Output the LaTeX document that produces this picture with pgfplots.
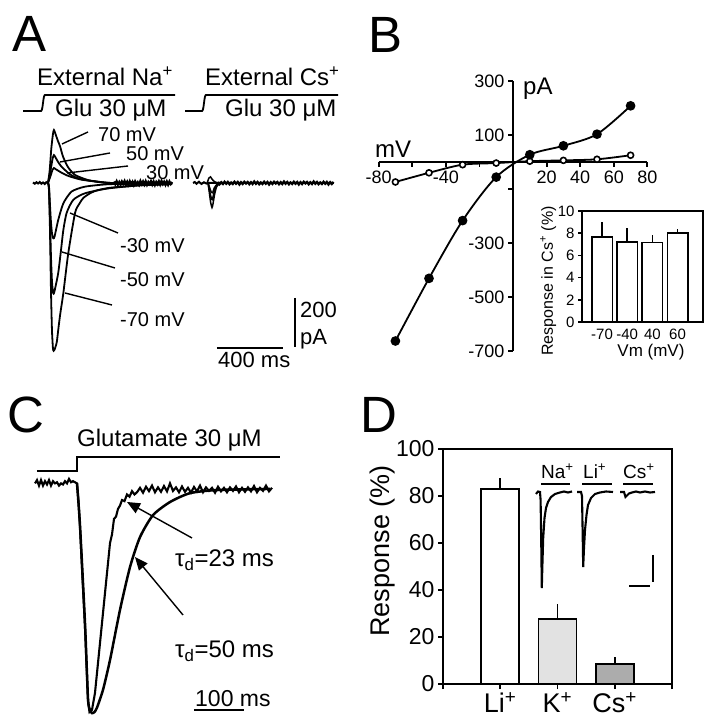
\documentclass[border=0pt]{standalone}
\usepackage{pgfplots}
\pgfplotsset{compat=1.18}
\usepackage{fontspec}
\setmainfont{Liberation Sans}
\usetikzlibrary{arrows.meta}
\newcommand\fs[1]{\fontsize{#1bp}{#1bp}\selectfont}
\definecolor{kgray}{RGB}{226,226,226}
\definecolor{cgray}{RGB}{172,172,172}
\begin{document}
\begin{tikzpicture}[line cap=butt]
\useasboundingbox (0,0) rectangle (710bp,720bp);
\fill[white] (0,0) rectangle (710bp,720bp);

% ================= A : traces (ms, pA)
\begin{axis}[at={(15bp,353.25bp)}, anchor=south west, scale only axis,
  width=346.5bp, height=281.75bp, xmin=-200, xmax=1900, ymin=-750, ymax=400,
  axis lines=none, clip=false]
% baseline before onset
\addplot[black, line width=2bp] coordinates {(-91,2)(-80,-3)(-70,3)(-60,-2)(-50,4)(-40,-3)(-30,2)(-20,-4)(-10,3)(0,0)};
% +70 mV
\addplot[black, line width=1.8bp, smooth, tension=0.4] coordinates {(0,0)(10,50)(20,140)(30,200)(36,216)(48,195)(60,172)(73,150)(91,108)(121,65)(164,33)(242,12)(320,4)(400,0)(752,0)};
% +50 mV
\addplot[black, line width=1.8bp, smooth, tension=0.4] coordinates {(0,0)(15,50)(28,100)(36,114)(45,105)(61,86)(80,68)(103,53)(130,37)(164,24)(210,14)(267,8)(320,3)(388,0)(752,0)};
% +30 mV
\addplot[black, line width=1.8bp, smooth, tension=0.4] coordinates {(0,0)(15,28)(28,55)(36,61)(50,55)(85,41)(115,31)(145,24)(200,14)(267,8)(330,3)(400,0)(752,0)};
% -30 mV
\addplot[black, line width=1.8bp, smooth, tension=0.4] coordinates {(0,0)(6,-15)(12,-90)(18,-160)(24,-205)(30,-224)(34,-226)(40,-218)(62,-151)(93,-83)(143,-35)(224,-15)(366,-5)(568,-3)(752,-2)};
% -50 mV
\addplot[black, line width=1.8bp, smooth, tension=0.4] coordinates {(0,0)(6,-20)(12,-150)(18,-300)(24,-400)(30,-445)(34,-452)(40,-440)(62,-367)(79,-273)(93,-192)(113,-122)(153,-69)(224,-42)(366,-22)(568,-9)(752,-4)};
% -70 mV
\addplot[black, line width=1.8bp, smooth, tension=0.4] coordinates {(0,0)(6,-30)(12,-192)(18,-437)(24,-600)(30,-675)(34,-685)(40,-680)(53,-650)(62,-600)(73,-540)(93,-449)(123,-286)(164,-122)(190,-85)(214,-61)(260,-40)(303,-29)(370,-20)(448,-15)(540,-10)(630,-8)(752,-4)};
% noisy tail
\addplot[black, line width=2.3bp] coordinates {(400,6)(408,-5)(416,7)(424,-6)(432,4)(440,-7)(448,6)(456,-3)(464,8)(472,-6)(480,5)(488,-7)(496,7)(504,-4)(512,5)(520,-8)(528,6)(536,-5)(544,3)(552,-7)(560,8)(568,-4)(576,6)(584,-6)(592,7)(600,-7)(608,4)(616,-4)(624,7)(632,-6)(640,6)(648,-8)(656,4)(664,-5)(672,7)(680,-6)(688,8)(696,-4)(704,5)(712,-7)(720,6)(728,-7)(736,6)(744,-4)(752,4)};
% ---- external Cs traces
\addplot[black, line width=2bp] coordinates {(879,0)(890,4)(900,-3)(915,5)(930,-4)(945,3)(960,-2)(970,0)(1090,0)(1733,0)};
\addplot[black, line width=1.5bp, smooth, tension=0.4] coordinates {(970,0)(978,-40)(986,-80)(994,-100)(1000,-85)(1010,-45)(1022,-15)(1040,-3)(1060,0)(1090,0)};
\addplot[black, line width=1.5bp, smooth, tension=0.4] coordinates {(970,0)(980,-35)(990,-62)(996,-68)(1006,-40)(1020,-12)(1040,0)(1060,0)};
\addplot[black, line width=1.5bp, smooth, tension=0.4] coordinates {(970,0)(980,-20)(990,-38)(998,-40)(1008,-20)(1025,-5)(1045,0)};
\addplot[black, line width=1.5bp, smooth, tension=0.4] coordinates {(965,0)(975,20)(985,25)(995,15)(1010,5)(1030,0)};
\addplot[black, line width=2.3bp] coordinates {(1030,4)(1040,-5)(1050,3)(1060,-4)(1070,5)(1080,-3)(1090,4)(1100,-5)(1110,2)(1120,-4)(1130,5)(1140,-3)(1150,4)(1160,-6)(1170,3)(1180,-4)(1190,5)(1200,-2)(1210,4)(1220,-5)(1230,3)(1240,-4)(1250,6)(1260,-3)(1270,4)(1280,-5)(1290,2)(1300,-4)(1310,5)(1320,-3)(1330,4)(1340,-6)(1350,3)(1360,-4)(1370,5)(1380,-2)(1390,4)(1400,-5)(1410,3)(1420,-4)(1430,6)(1440,-3)(1450,4)(1460,-5)(1470,2)(1480,-4)(1490,5)(1500,-3)(1510,4)(1520,-6)(1530,3)(1540,-4)(1550,5)(1560,-2)(1570,4)(1580,-5)(1590,3)(1600,-4)(1610,6)(1620,-3)(1630,4)(1640,-5)(1650,2)(1660,-4)(1670,5)(1680,-3)(1690,4)(1700,-6)(1710,3)(1720,-4)(1730,4)};
% scale bars 200 pA / 400 ms
\draw[line width=1.8bp] (axis cs:1497,-469) -- (axis cs:1497,-669);
\draw[line width=1.8bp] (axis cs:1024,-673) -- (axis cs:1424,-673);
\end{axis}

% ================= B : I-V relation
\begin{axis}[at={(378.6bp,369bp)}, anchor=south west, scale only axis,
  width=268.8bp, height=270bp, xmin=-80, xmax=80, ymin=-700, ymax=300,
  axis lines=middle, axis line style={-, line width=1.8bp},
  xtick={-80,-60,...,80}, xticklabels={-80,,-40,,,20,40,60,80},
  ytick={300,100,-100,-300,-500,-700}, yticklabels={300,100,,-300,-500,-700},
  tick align=outside, major tick length=5bp, tick style={black, line width=1.8bp},
  xticklabel style={font=\fs{18}}, yticklabel style={font=\fs{18}},
  clip=false]
\addplot[black, line width=1.8bp, smooth, tension=0.5, mark=*, mark size=3bp,
  mark options={fill=white, line width=1.6bp}]
  coordinates {(-70,-74)(-50,-40)(-30,-10)(-10,-4)(10,3)(30,6)(50,10)(70,25)};
\addplot[black, line width=1.8bp, smooth, tension=0.5, mark=*, mark size=3.9bp]
  coordinates {(-70,-663)(-50,-431)(-30,-217)(-10,-56)(10,27)(30,60)(50,103)(70,208)};
\end{axis}

% ---- B inset
\begin{axis}[at={(582bp,398bp)}, anchor=south west, scale only axis,
  width=121bp, height=111bp, xmin=-0.795, xmax=4.01, ymin=0, ymax=10,
  axis line style={line width=1.5bp}, tick style={black, line width=1.5bp},
  ytick={0,2,4,6,8,10}, yticklabels={0,2,4,6,8,10},
  xtick={0,1,2,3}, xticklabels={-70,-40,40,60}, xtick style={draw=none},
  xtick pos=left, ytick pos=left, tick align=outside, major tick length=4bp,
  ticklabel style={font=\fs{15}},
  xlabel={Vm (mV)}, ylabel={Response in Cs\textsuperscript{+} (\%)},
  xlabel style={font=\fs{17}, at={(axis description cs:0.57,-0.27)}, anchor=center},
  ylabel style={font=\fs{16}, at={(axis description cs:-0.28,0.37)}, anchor=center}]
\addplot[ybar, bar width=20.5bp, bar shift=0pt, fill=white, draw=black, line width=1.5bp,
  error bars/.cd, y dir=plus, y explicit, error mark=none, error bar style={line width=1.5bp}]
  coordinates {(0,7.65) +- (0,1.35) (1,7.2) +- (0,1.3) (2,7.15) +- (0,0.65) (3,8.0) +- (0,0.4)};
\end{axis}

% ================= C : glutamate response (ms, normalised)
\begin{axis}[at={(20bp,0.2bp)}, anchor=south west, scale only axis,
  width=280bp, height=279.7bp, xmin=-114, xmax=446, ymin=-1.035, ymax=0.225,
  axis lines=none, clip=false]
% raw (fast) trace
\addplot[black, line width=2.1bp] coordinates {(-84,0.03)(-80,0.045)(-76,0.02)(-72,0.045)(-68,0.02)(-64,0.04)(-60,0.025)(-56,0.045)(-52,0.02)(-48,0.04)(-44,0.03)(-40,0.035)(-36,0.02)(-32,0.03)(-28,0.025)(-24,0.04)(-20,0.03)(-16,0.05)(-12,0.035)(-8,0.04)(-4,0.035)(0,0.03)
 (3,-0.05)(6,-0.167)(11,-0.4)(16,-0.617)(22,-0.946)(25,-1.0)(30,-0.99)(36,-0.914)(46,-0.689)(56,-0.464)(66,-0.239)(70,-0.2)(74,-0.13)(78,-0.12)(82,-0.085)(86,-0.07)(90,-0.045)(95,-0.05)(100,-0.02)(105,-0.03)(110,-0.005)(115,-0.02)
 (120,-0.01)(126,0.01)(132,-0.012)(138,0.015)(144,-0.005)(150,0.02)(156,-0.01)(162,0.012)(168,-0.008)(174,0.018)(180,-0.006)(186,0.03)(192,-0.004)(198,0.012)(204,-0.01)(210,0.016)(216,-0.008)(222,0.01)(228,-0.012)(234,0.014)(240,-0.006)(246,0.02)(252,-0.01)(258,0.012)(264,-0.004)(270,0.01)(276,-0.012)(282,0.015)(288,-0.006)(294,0.01)(300,-0.01)(306,0.012)(312,-0.004)(318,0.016)(324,-0.01)(330,0.01)(336,-0.008)(342,0.012)(348,-0.006)(354,0.018)(360,-0.01)(366,0.01)(372,-0.004)(378,0.02)(384,-0.006)(390,0.01)};
% slow trace
\addplot[black, line width=2.5bp, smooth, tension=0.4] coordinates {(0,0.03)(6,-0.16)(16,-0.6)(22,-0.94)(26,-0.99)(30,-1.005)(35,-1.0)(40,-0.98)(52,-0.90)(66,-0.766)(86,-0.54)(106,-0.347)(126,-0.212)(152,-0.113)(186,-0.054)(226,-0.014)(280,0)(386,0.005)};
% glutamate application bar
\draw[line width=1.8bp] (axis cs:-80,0.086) -- (axis cs:0,0.086) -- (axis cs:0,0.149) -- (axis cs:406,0.149);
% 100 ms scale bar
\draw[line width=1.6bp] (axis cs:234,-0.991) -- (axis cs:334,-0.991);
\end{axis}

% ================= D : bar chart
\begin{axis}[at={(443bp,36bp)}, anchor=south west, scale only axis,
  width=229bp, height=235bp, xmin=-1, xmax=3, ymin=0, ymax=100,
  axis line style={line width=1.7bp}, tick style={black, line width=1.7bp},
  xtick={-1,0,1,2,3}, xticklabels={,Li\textsuperscript{+},K\textsuperscript{+},Cs\textsuperscript{+},},
  ytick={0,20,40,60,80,100}, yticklabels={0,20,40,60,80,100},
  xtick pos=left, ytick pos=left, tick align=outside, major tick length=5bp,
  xticklabel style={font=\fs{27}}, yticklabel style={font=\fs{23}},
  ylabel={Response (\%)},
  ylabel style={font=\fs{27}, at={(axis description cs:-0.266,0.566)}, anchor=center}]
\addplot[ybar, bar width=38bp, bar shift=0pt, fill=white, draw=black, line width=1.7bp,
  error bars/.cd, y dir=plus, y explicit, error bar style={line width=1.7bp},
  error mark options={line width=1.7bp, mark size=3.5bp}]
  coordinates {(0,83) +- (0,3)};
\addplot[ybar, bar width=38bp, bar shift=0pt, fill=kgray, draw=black, line width=1.7bp,
  error bars/.cd, y dir=plus, y explicit, error bar style={line width=1.7bp},
  error mark options={line width=1.7bp, mark size=3.5bp}]
  coordinates {(1,27.8) +- (0,4.7)};
\addplot[ybar, bar width=38bp, bar shift=0pt, fill=cgray, draw=black, line width=1.7bp,
  error bars/.cd, y dir=plus, y explicit, error bar style={line width=1.7bp},
  error mark options={line width=1.7bp, mark size=3.5bp}]
  coordinates {(2,8.5) +- (0,1.3)};
\end{axis}

% ---- D inset traces
\begin{axis}[at={(530bp,120bp)}, anchor=south west, scale only axis,
  width=130bp, height=135bp, xmin=0, xmax=130, ymin=0, ymax=135,
  axis lines=none, clip=false]
\addplot[black, line width=2.1bp] coordinates {(6,106)(8,108.5)(10,108)(10.6,100)(11.2,60)(11.8,12)(12.4,35)(13.2,62)(14.5,82)(16,92)(18,98)(21,103)(25,106)(30,107.5)(34,108.5)(38,107.5)(42,108.5)};
\addplot[black, line width=2.1bp] coordinates {(47,108)(51,108)(52,104)(52.6,70)(53.2,33)(54,52)(55,70)(56.5,85)(58,95)(61,102)(65,106)(70,107.5)(76,108.5)(83,108)};
\addplot[black, line width=2.1bp] coordinates {(90,108)(94,108)(95.5,103)(97,104.5)(99,106.5)(102,107.5)(106,108.5)(110,107.5)(115,108.5)(120,107.5)(125,108)};
\draw[line width=1.8bp] (axis cs:123,45) -- (axis cs:123,18);
\draw[line width=1.8bp] (axis cs:99,14) -- (axis cs:120,14);
\end{axis}

% ================= annotations (pixel coordinates, y downward)
\begin{scope}[x=1bp, y=-1bp, yshift=720bp, every node/.style={inner sep=0pt, anchor=base west}]
% panel letters
\node[font=\fs{51}] at (12,52) {A};
\node[font=\fs{51}] at (368,53) {B};
\node[font=\fs{51}] at (7,433) {C};
\node[font=\fs{51}] at (360,433) {D};
% A texts
\node[font=\fs{24}] at (37,86) {External Na\textsuperscript{+}};
\node[font=\fs{24}] at (205,86) {External Cs\textsuperscript{+}};
\node[font=\fs{24}] at (55,117) {Glu 30 μM};
\node[font=\fs{24}] at (225,117) {Glu 30 μM};
\draw[line width=1.8bp] (23,111) -- (41,111) .. controls (43,111) and (43,95) .. (45,95) -- (175,95);
\draw[line width=1.8bp] (185,111) -- (202,111) .. controls (204,111) and (204,95) .. (206,95) -- (338,95);
\node[font=\fs{20}] at (98,142) {70 mV};
\node[font=\fs{20}] at (126,161) {50 mV};
\node[font=\fs{20}] at (146,180) {30 mV};
\node[font=\fs{20}] at (120,253) {-30 mV};
\node[font=\fs{20}] at (120,287) {-50 mV};
\node[font=\fs{20}] at (120,327) {-70 mV};
\draw[line width=1.4bp] (62,144) -- (88,132);
\draw[line width=1.4bp] (60,162) -- (110,153);
\draw[line width=1.4bp] (67,173) -- (128,166);
\draw[line width=1.4bp] (70,213) -- (118,233);
\draw[line width=1.4bp] (62,252) -- (115,268);
\draw[line width=1.4bp] (65,293) -- (112,305);
\node[font=\fs{22}] at (300,318) {200};
\node[font=\fs{22}] at (300,345) {pA};
\node[font=\fs{22}] at (218,368) {400 ms};
% B texts
\node[font=\fs{24}] at (375,158) {mV};
\node[font=\fs{24}] at (523,95) {pA};
% C texts
\node[font=\fs{24}] at (77,447) {Glutamate 30 μM};
\node[font=\fs{24}] at (175,567) {τ\textsubscript{d}=23 ms};
\node[font=\fs{24}] at (175,658) {τ\textsubscript{d}=50 ms};
\node[font=\fs{23}] at (195,707) {100 ms};
\draw[line width=1.4bp, -{Triangle[length=13bp,width=11bp]}] (192,538) -- (127,502);
\draw[line width=1.4bp, -{Triangle[length=13bp,width=11bp]}] (183,615) -- (135,557);
% D inset labels
\node[font=\fs{19}] at (541,479) {Na\textsuperscript{+}};
\node[font=\fs{19}] at (583,479) {Li\textsuperscript{+}};
\node[font=\fs{19}] at (623,479) {Cs\textsuperscript{+}};
\draw[line width=1.4bp] (541,484) -- (570,484);
\draw[line width=1.4bp] (582,484) -- (612,484);
\draw[line width=1.4bp] (623,484) -- (653,484);
\end{scope}
\end{tikzpicture}
\end{document}
